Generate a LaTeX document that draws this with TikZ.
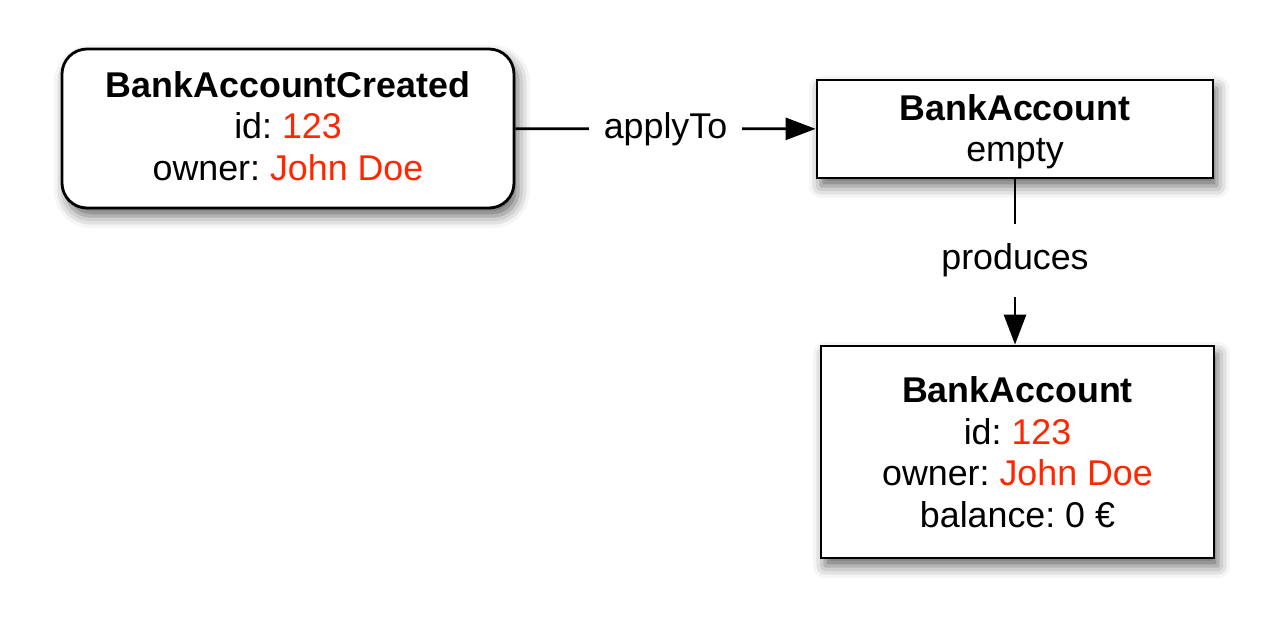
\documentclass[tikz,border=0pt]{standalone}
\usepackage{fontspec}
\setmainfont{Liberation Sans}
\usetikzlibrary{arrows.meta, positioning, shadows.blur}
\definecolor{valred}{RGB}{255,38,0}
\frenchspacing

\begin{document}
\begin{tikzpicture}[x=0.5pt, y=-0.5pt,
  box/.style={draw, line width=1.4pt, fill=white, align=center, inner sep=0pt,
    font=\fontsize{17.9}{20.75}\selectfont,
    blur shadow={shadow xshift=2pt, shadow yshift=-4pt, shadow blur radius=6pt, shadow opacity=60}},
  evbox/.style={box, rounded corners=12.5pt},
  flow/.style={line width=1.4pt, -{Triangle[length=15pt, width=11pt]}},
  flowlabel/.style={fill=white, inner xsep=7.4pt, inner ysep=10pt, font=\fontsize{17.9}{20.75}\selectfont}]
\useasboundingbox (0,0) rectangle (1275,633);

% Nodos principales
\node[evbox, minimum width=226pt, minimum height=79.5pt] (created) at (288,128.5)
  {\textbf{BankAccountCreated}\\ id: \textcolor{valred}{123}\\ owner: \textcolor{valred}{John Doe}\rule[-2.5pt]{0pt}{1pt}};
\node[box, minimum width=198pt, minimum height=49pt] (emptyacc) at (1015,129)
  {\rule{0pt}{15.5pt}\textbf{BankAccount}\\ empty};
\node[box, minimum width=196.5pt, minimum height=106pt] (account) at (1017.5,452)
  {\textbf{BankAccount}\\ id: \textcolor{valred}{123}\\ owner: \textcolor{valred}{John Doe}\\ balance: 0 €};

% Flechas
\draw[flow] (created) -- (emptyacc) node[flowlabel, midway] {applyTo};
\draw[flow] (emptyacc.south) -- (emptyacc.south |- account.north) node[flowlabel, pos=0.49] {produces};
\end{tikzpicture}
\end{document}
